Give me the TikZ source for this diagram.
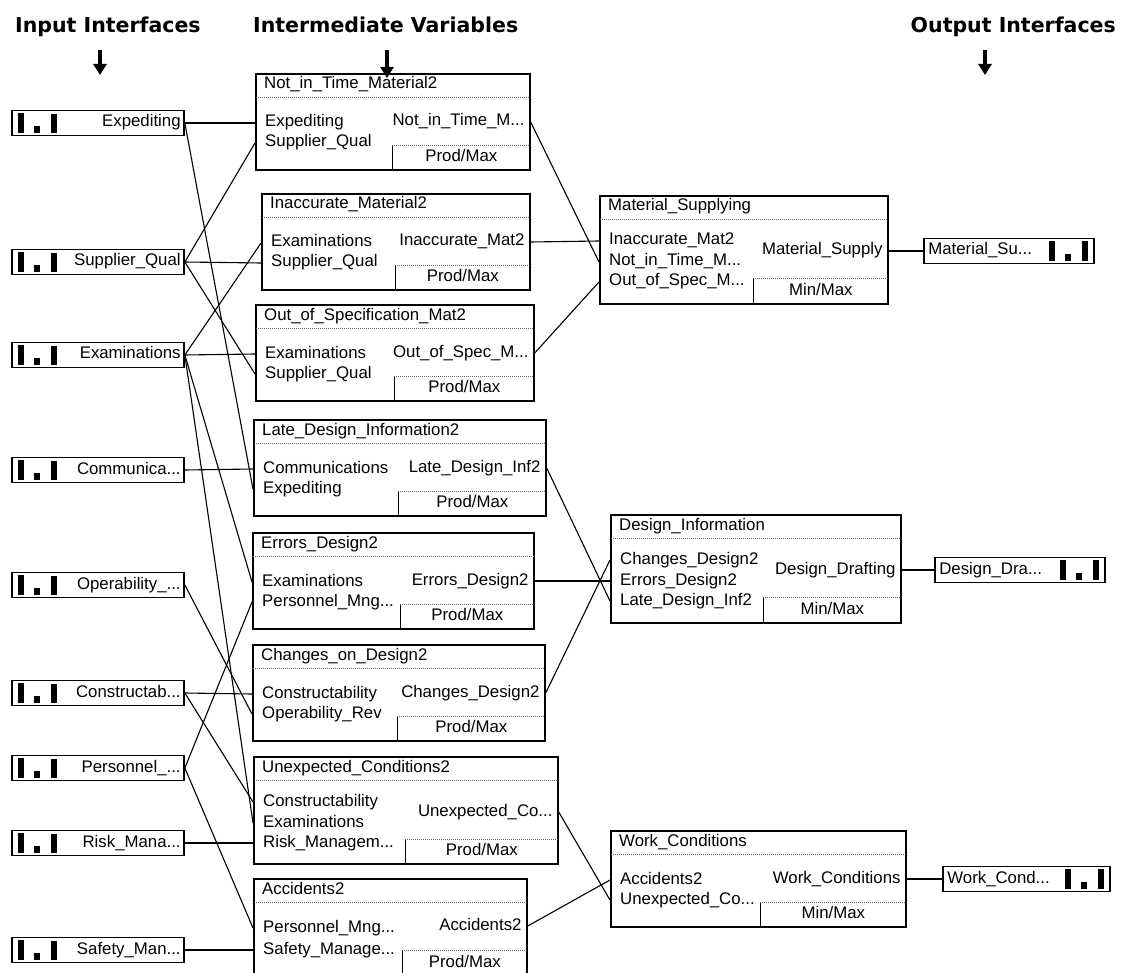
\documentclass[tikz,border=0pt]{standalone}
\usepackage{fontspec}
\setmainfont{Liberation Sans}
\newfontfamily\hdrfont{DejaVu Sans}
\usetikzlibrary{calc,arrows.meta}

\tikzset{
  blk/.style={draw=black, line width=1.7pt, rectangle, inner sep=0pt, anchor=north west},
  lbl/.style={inner sep=0pt, font=\fontsize{16.8}{18}\selectfont, text height=11.5pt, text depth=3.5pt},
  sepline/.style={black!60, line width=0.8pt, dash pattern=on 1pt off 1pt},
  wire/.style={line width=1.1pt, black},
  hdr/.style={font=\hdrfont\bfseries\fontsize{20.5}{24}\selectfont, inner sep=0pt, anchor=base west},
  hdrarrow/.style={line width=3.5pt, -{Triangle[width=13pt,length=11pt]}},
  iface/.style={draw=black, line width=1.7pt, rectangle, inner sep=0pt, minimum width=172pt, minimum height=25pt},
}

% function block: name, left x, top y, right x, bottom y, title
\newcommand{\fblock}[6]{%
  \node[blk, minimum width={#4-#2}, minimum height={#5-#3}] (#1) at (#2,#3) {};
  \node[lbl, anchor=west] (#1-title) at ($(#1.north west)+(9,12)$) {#6};
  \draw[sepline] ($(#1.north west)+(1,24)$) -- ($(#1.north east)+(-1,24)$);
}
% input row of a block: block, index, offset from top, label
\newcommand{\fin}[4]{%
  \coordinate (#1-in#2) at ($(#1.north west)+(0,#3)$);
  \node[lbl, anchor=west] (#1-inlbl#2) at ($(#1.north west)+(10,#3)$) {#4};
}
% output of a block: block, offset from top, label
\newcommand{\fout}[3]{%
  \coordinate (#1-out) at ($(#1.north east)+(0,#2)$);
  \node[lbl, anchor=east] (#1-outlbl) at ($(#1.north east)+(-6,#2)$) {#3};
}
% aggregation method field: block, offset from left, offset from top, method
\newcommand{\fsub}[4]{%
  \coordinate (#1-sub) at ($(#1.north west)+(#2,#3)$);
  \draw[line width=0.9pt] (#1-sub) -- (#1-sub |- #1.south);
  \draw[sepline] (#1-sub) -- ($(#1-sub -| #1.east)+(-1,0)$);
  \node[lbl] (#1-method) at ($(#1-sub)!0.5!(#1.south east)$) {#4};
}
% input interface: name, centre y, label
\newcommand{\inface}[3]{%
  \node[iface] (#1) at (98,#2) {};
  \fill ($(#1.north west)+(7,3)$) rectangle ($(#1.south west)+(13,-3)$);
  \fill ($(#1.south west)+(23,-3)$) rectangle ($(#1.south west)+(29,-10)$);
  \fill ($(#1.north west)+(40,4)$) rectangle ($(#1.south west)+(46,-3)$);
  \node[lbl, anchor=east] (#1-lbl) at ($(#1.east)+(-4,0)$) {#3};
}
% output interface: name, left x, right x, centre y, label
\newcommand{\outface}[5]{%
  \node[iface, minimum width={#3-#2}] (#1) at ({(#2+#3)/2},#4) {};
  \fill ($(#1.north east)+(-46,3)$) rectangle ($(#1.south east)+(-40,-3)$);
  \fill ($(#1.south east)+(-30,-3)$) rectangle ($(#1.south east)+(-24,-10)$);
  \fill ($(#1.north east)+(-13,3)$) rectangle ($(#1.south east)+(-7,-3)$);
  \node[lbl, anchor=west] (#1-lbl) at ($(#1.west)+(5,0)$) {#5};
}

\begin{document}
\begin{tikzpicture}[x=1pt,y=-1pt]
\useasboundingbox (0,0) rectangle (1121,973);
\clip (0,0) rectangle (1121,973);

% column headings
\node[hdr] (h-in) at (15,33) {Input Interfaces};
\node[hdr] (h-mid) at (253,33) {Intermediate Variables};
\node[hdr, anchor=base east] (h-out) at (1116,33) {Output Interfaces};
\coordinate (a-in-s) at (100,50);  \coordinate (a-in-e) at (100,75);
\coordinate (a-mid-s) at (387,50); \coordinate (a-mid-e) at (387,78);
\coordinate (a-out-s) at (985,50); \coordinate (a-out-e) at (985,75);
\draw[hdrarrow] (a-in-s) -- (a-in-e);
\draw[hdrarrow] (a-mid-s) -- (a-mid-e);
\draw[hdrarrow] (a-out-s) -- (a-out-e);

% input interfaces
\inface{iexp}{123}{Expediting}
\inface{isup}{262}{Supplier\_Qual}
\inface{iexa}{355}{Examinations}
\inface{icom}{470}{Communica...}
\inface{iope}{585}{Operability\_...}
\inface{icon}{693}{Constructab...}
\inface{iper}{768}{Personnel\_...}
\inface{iris}{843}{Risk\_Mana...}
\inface{isaf}{950}{Safety\_Man...}

% intermediate variables
\fblock{nt}{255}{73}{529}{169}{Not\_in\_Time\_Material2}
\fin{nt}{1}{50}{Expediting}
\fin{nt}{2}{70}{Supplier\_Qual}
\fout{nt}{49}{Not\_in\_Time\_M...}
\fsub{nt}{137}{72}{Prod/Max}

\fblock{ia}{261}{193}{529}{289}{Inaccurate\_Material2}
\fin{ia}{1}{50}{Examinations}
\fin{ia}{2}{70}{Supplier\_Qual}
\fout{ia}{49}{Inaccurate\_Mat2}
\fsub{ia}{134}{72}{Prod/Max}

\fblock{os}{255}{304}{533}{400}{Out\_of\_Specification\_Mat2}
\fin{os}{1}{50}{Examinations}
\fin{os}{2}{70}{Supplier\_Qual}
\fout{os}{49}{Out\_of\_Spec\_M...}
\fsub{os}{139}{72}{Prod/Max}

\fblock{ld}{253}{419}{545}{515}{Late\_Design\_Information2}
\fin{ld}{1}{50}{Communications}
\fin{ld}{2}{70}{Expediting}
\fout{ld}{49}{Late\_Design\_Inf2}
\fsub{ld}{145}{72}{Prod/Max}

\fblock{ed}{252}{532}{533}{628}{Errors\_Design2}
\fin{ed}{1}{50}{Examinations}
\fin{ed}{2}{70}{Personnel\_Mng...}
\fout{ed}{49}{Errors\_Design2}
\fsub{ed}{148}{72}{Prod/Max}

\fblock{cd}{252}{644}{544}{740}{Changes\_on\_Design2}
\fin{cd}{1}{50}{Constructability}
\fin{cd}{2}{70}{Operability\_Rev}
\fout{cd}{49}{Changes\_Design2}
\fsub{cd}{145}{72}{Prod/Max}

\fblock{uc}{253}{756}{557}{863}{Unexpected\_Conditions2}
\fin{uc}{1}{46}{Constructability}
\fin{uc}{2}{67}{Examinations}
\fin{uc}{3}{87}{Risk\_Managem...}
\fout{uc}{56}{Unexpected\_Co...}
\fsub{uc}{152}{83}{Prod/Max}

\fblock{ac}{253}{878}{526}{975}{Accidents2}
\fin{ac}{1}{50}{Personnel\_Mng...}
\fin{ac}{2}{72}{Safety\_Manage...}
\fout{ac}{48}{Accidents2}
\fsub{ac}{149}{72}{Prod/Max}

% aggregated variables
\fblock{ms}{599}{195}{887}{303}{Material\_Supplying}
\fin{ms}{1}{46}{Inaccurate\_Mat2}
\fin{ms}{2}{67}{Not\_in\_Time\_M...}
\fin{ms}{3}{87}{Out\_of\_Spec\_M...}
\fout{ms}{56}{Material\_Supply}
\fsub{ms}{154}{83}{Min/Max}

\fblock{di}{610}{514}{900}{622}{Design\_Information}
\fin{di}{1}{46}{Changes\_Design2}
\fin{di}{2}{67}{Errors\_Design2}
\fin{di}{3}{87}{Late\_Design\_Inf2}
\fout{di}{56}{Design\_Drafting}
\fsub{di}{153}{83}{Min/Max}

\fblock{wc}{610}{830}{905}{926}{Work\_Conditions}
\fin{wc}{1}{50}{Accidents2}
\fin{wc}{2}{70}{Unexpected\_Co...}
\fout{wc}{49}{Work\_Conditions}
\fsub{wc}{150}{72}{Min/Max}

% output interfaces
\outface{oms}{924}{1094}{251}{Material\_Su...}
\outface{odi}{935}{1105}{570}{Design\_Dra...}
\outface{owc}{943}{1110}{879}{Work\_Cond...}

% links from input interfaces
\draw[wire] (iexp.east) -- (nt-in1);
\draw[wire] (iexp.east) -- (ld-in2);
\draw[wire] (isup.east) -- (nt-in2);
\draw[wire] (isup.east) -- (ia-in2);
\draw[wire] (isup.east) -- (os-in2);
\draw[wire] (iexa.east) -- (ia-in1);
\draw[wire] (iexa.east) -- (os-in1);
\draw[wire] (iexa.east) -- (ed-in1);
\draw[wire] (iexa.east) -- (uc-in2);
\draw[wire] (icom.east) -- (ld-in1);
\draw[wire] (iope.east) -- (cd-in2);
\draw[wire] (icon.east) -- (cd-in1);
\draw[wire] (icon.east) -- (uc-in1);
\draw[wire] (iper.east) -- (ed-in2);
\draw[wire] (iper.east) -- (ac-in1);
\draw[wire] (iris.east) -- (uc-in3);
\draw[wire] (isaf.east) -- (ac-in2);

% links into the aggregated variables
\draw[wire] (ia-out) -- (ms-in1);
\draw[wire] (nt-out) -- (ms-in2);
\draw[wire] (os-out) -- (ms-in3);
\draw[wire] (cd-out) -- (di-in1);
\draw[wire] (ed-out) -- (di-in2);
\draw[wire] (ld-out) -- (di-in3);
\draw[wire] (ac-out) -- (wc-in1);
\draw[wire] (uc-out) -- (wc-in2);

% links to the output interfaces
\draw[wire] (ms-out) -- (oms.west);
\draw[wire] (di-out) -- (odi.west);
\draw[wire] (wc-out) -- (owc.west);
\end{tikzpicture}
\end{document}
